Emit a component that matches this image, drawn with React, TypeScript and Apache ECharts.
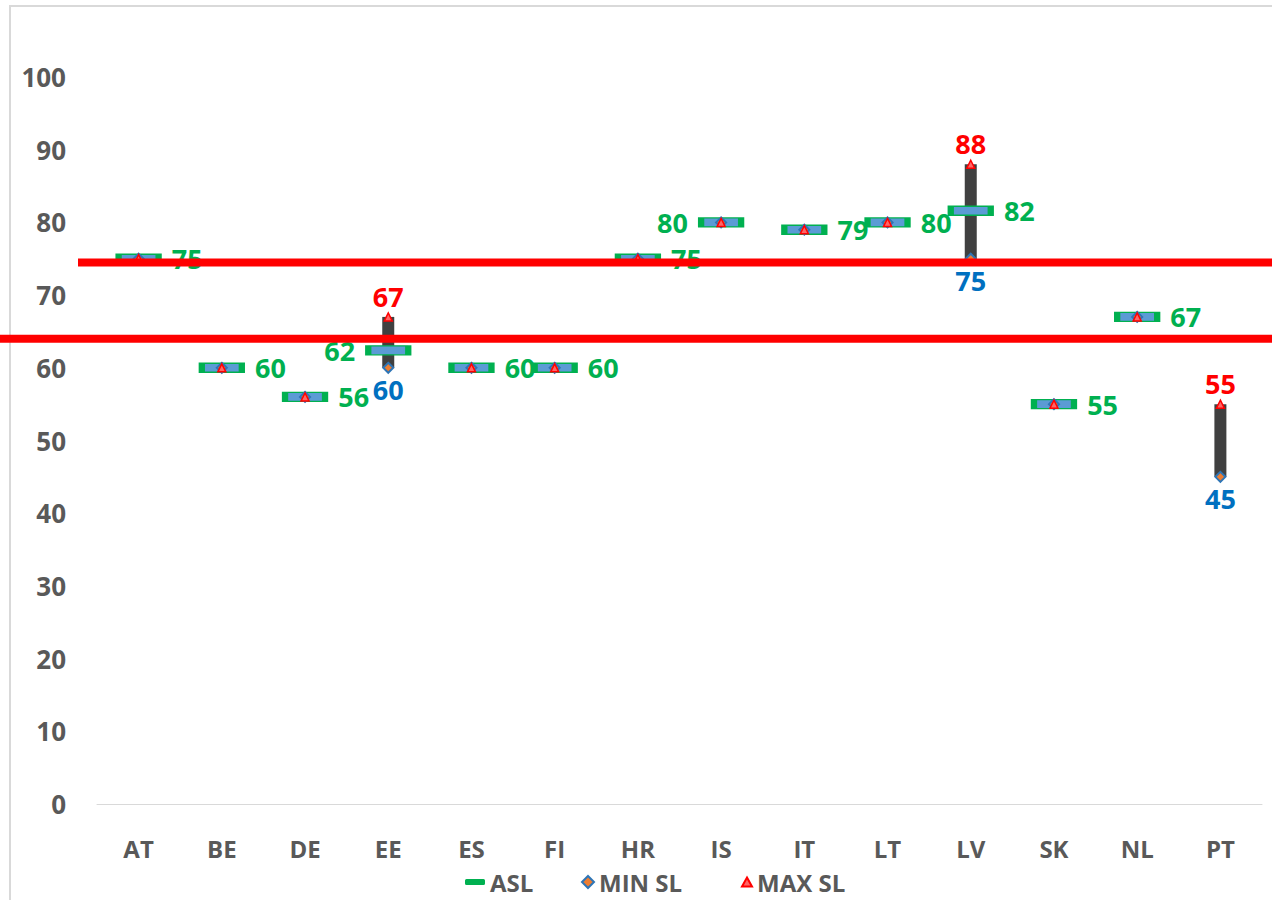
import React, { useEffect, useRef } from "react";
import * as echarts from "echarts";

const categories = ["AT", "BE", "DE", "EE", "ES", "FI", "HR", "IS", "IT", "LT", "LV", "SK", "NL", "PT"];
const aslValues: (number | null)[] = [75, 60, 56, 62.4, 60, 60, 75, 80, 79, 80, 81.6, 55, 67, null];
const minValues = [75, 60, 56, 60, 60, 60, 75, 80, 79, 80, 75, 55, 67, 45];
const maxValues = [75, 60, 56, 67, 60, 60, 75, 80, 79, 80, 88, 55, 67, 55];
const aslLabelLeft = ["EE", "IS"];
const thresholds = [74.5, 64];
const yTicks = { min: 0, max: 100, interval: 10 };

const FONT = "'Open Sans', 'Liberation Sans', sans-serif";
const GREEN = "#00B050";
const BLUE = "#0070C0";
const RED = "#FF0000";
const GREY = "#595959";

export default function App() {
  const ref = useRef<HTMLDivElement>(null);
  useEffect(() => {
    if (!ref.current) return;
    const chart = echarts.init(ref.current, null, { renderer: "svg" });
    const rangeBase = minValues.map((v, i) => (maxValues[i] > v ? v : 0));
    const rangeSpan = minValues.map((v, i) => (maxValues[i] > v ? maxValues[i] - v : 0));
    const legendText = { fontSize: 24, fontWeight: "bold", color: GREY, fontFamily: FONT };
    chart.setOption({
      animation: false,
      textStyle: { fontFamily: FONT },
      grid: { left: 97, right: 10, top: 77, bottom: 96, containLabel: false },
      legend: [
        {
          data: [{ name: "ASL", icon: "roundRect", itemStyle: { color: GREEN, borderWidth: 0 } }],
          left: 460, bottom: 1, itemWidth: 20, itemHeight: 6, textStyle: legendText, itemGap: 6,
        },
        {
          data: [{ name: "MIN SL", icon: "diamond" }],
          left: 576, bottom: 1, itemWidth: 12, itemHeight: 12, textStyle: legendText,
        },
        {
          data: [{ name: "MAX SL", icon: "triangle" }],
          left: 736, bottom: 1, itemWidth: 10, itemHeight: 9, textStyle: legendText,
        },
      ],
      xAxis: {
        type: "category",
        data: categories,
        axisLine: { lineStyle: { color: "#D9D9D9", width: 1 } },
        axisTick: { show: false },
        axisLabel: { color: GREY, fontSize: 24, fontWeight: "bold", margin: 32, fontFamily: FONT },
      },
      yAxis: {
        type: "value",
        min: yTicks.min,
        max: yTicks.max,
        interval: yTicks.interval,
        splitLine: { show: false },
        axisLine: { show: false },
        axisTick: { show: false },
        axisLabel: { color: GREY, fontSize: 26, fontWeight: "bold", margin: 31, fontFamily: FONT },
      },
      series: [
        {
          name: "base",
          type: "bar",
          stack: "range",
          data: rangeBase,
          barWidth: 12,
          itemStyle: { color: "transparent" },
          silent: true,
          z: 1,
        },
        {
          name: "range",
          type: "bar",
          stack: "range",
          data: rangeSpan,
          barWidth: 12,
          itemStyle: { color: "#404040" },
          silent: true,
          z: 1,
        },
        {
          name: "ASL",
          type: "scatter",
          symbol: "rect",
          symbolSize: [40, 9],
          z: 3,
          itemStyle: { color: "#5B9BD5", borderColor: GREEN, borderWidth: 3, opacity: 1 },
          data: aslValues.map((v, i) =>
            v === null
              ? null
              : {
                  value: v,
                  label: {
                    show: true,
                    position: aslLabelLeft.includes(categories[i]) ? "left" : "right",
                    distance: 10,
                    formatter: () => String(Math.round(v)),
                    color: GREEN,
                    fontSize: 27,
                    fontWeight: "bold",
                    fontFamily: FONT,
                  },
                }
          ),
        },
        {
          name: "MIN SL",
          type: "scatter",
          symbol: "diamond",
          symbolSize: 10,
          z: 4,
          itemStyle: { color: "#ED7D31", borderColor: "#2E75B6", borderWidth: 2, opacity: 1 },
          data: minValues.map((v, i) => ({
            value: v,
            label: {
              show: maxValues[i] > v,
              position: "bottom",
              distance: 2,
              color: BLUE,
              fontSize: 27,
              fontWeight: "bold",
              fontFamily: FONT,
            },
          })),
        },
        {
          name: "MAX SL",
          type: "scatter",
          symbol: "triangle",
          symbolSize: 8,
          z: 5,
          itemStyle: { color: "#FF6666", borderColor: RED, borderWidth: 1.5, opacity: 1 },
          data: maxValues.map((v, i) => ({
            value: v,
            label: {
              show: v > minValues[i],
              position: "top",
              distance: 2,
              color: RED,
              fontSize: 27,
              fontWeight: "bold",
              fontFamily: FONT,
            },
          })),
        },
      ],
    });
    const y1 = chart.convertToPixel({ yAxisIndex: 0 }, thresholds[0]) as number;
    const y2 = chart.convertToPixel({ yAxisIndex: 0 }, thresholds[1]) as number;
    chart.setOption({
      graphic: [
        {
          type: "rect",
          shape: { x: 10, y: 6, width: 1300, height: 1000 },
          style: { fill: "none", stroke: "#D9D9D9", lineWidth: 2 },
          silent: true,
          z: 0,
        },
        {
          type: "line",
          shape: { x1: 78, y1: y1, x2: 1272, y2: y1 },
          style: { stroke: RED, lineWidth: 8 },
          z: 100,
        },
        {
          type: "line",
          shape: { x1: 0, y1: y2, x2: 1272, y2: y2 },
          style: { stroke: RED, lineWidth: 8 },
          z: 100,
        },
      ],
    });
    return () => chart.dispose();
  }, []);
  return (
    <div
      ref={ref}
      style={{ position: "absolute", left: 0, top: 0, width: 1272, height: 900, background: "#fff" }}
    />
  );
}
